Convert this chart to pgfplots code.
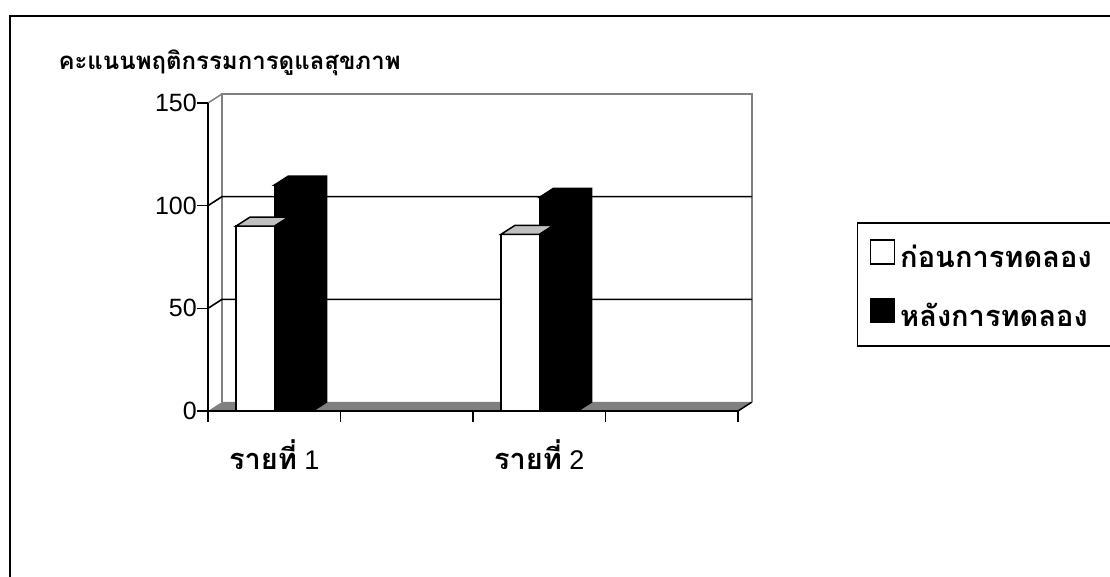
\documentclass[border=0pt]{standalone}
\usepackage{fontspec}
\setmainfont{Liberation Sans}
\newfontfamily\thai[Script=Thai]{Loma}
\usepackage{pgfplots}
\usepackage{pgfplotstable}
\pgfplotsset{compat=1.18}

\definecolor{floorgray}{RGB}{128,128,128}
\definecolor{wallgray}{RGB}{128,128,128}
\definecolor{topgray}{RGB}{192,192,192}

\pgfplotstableread{
x before after
0 90 110
2 86 104
}\scores

\def\ddx{0.1057}
\def\ddy{4.383}

% top face of the white column (drawn at the group centre, column spans [-38.4pt,0])
\pgfdeclareplotmark{topwhite}{%
  \pgfpathmoveto{\pgfpoint{-38.4pt}{0pt}}%
  \pgfpathlineto{\pgfpoint{-24.4pt}{9pt}}%
  \pgfpathlineto{\pgfpoint{14pt}{9pt}}%
  \pgfpathlineto{\pgfpoint{0pt}{0pt}}%
  \pgfpathclose
  \pgfusepathqfillstroke}
% top and side face of the black column (column spans [0,38.4pt])
\pgfdeclareplotmark{blackcol}{%
  \pgfmathsetmacro\hh{\rawy*2.05333}%
  \pgfpathmoveto{\pgfpoint{0pt}{0pt}}%
  \pgfpathlineto{\pgfpoint{14pt}{9pt}}%
  \pgfpathlineto{\pgfpoint{52.4pt}{9pt}}%
  \pgfpathlineto{\pgfpoint{52.4pt}{9pt-\hh pt}}%
  \pgfpathlineto{\pgfpoint{38.4pt}{-\hh pt}}%
  \pgfpathlineto{\pgfpoint{38.4pt}{0pt}}%
  \pgfpathclose
  \pgfusepathqfillstroke}

\pgfplotsset{mylegend/.style={legend image code/.code={%
  \draw[##1,line width=1.5pt] (0pt,-7pt) rectangle (24pt,17pt);}}}

\begin{document}
\begin{tikzpicture}[x=1pt,y=1pt]
\fill[white] (0,0) rectangle (1110,577);
\draw[line width=2pt] (9.5,-20) -- (9.5,561) -- (1130,561);
\node[anchor=base west,font=\thai\bfseries\fontsize{24}{29}\selectfont] at (55,507) {คะแนนพฤติกรรมการดูแลสุขภาพ};
\begin{axis}[
  at={(208pt,166pt)}, anchor=south west,
  scale only axis, width=530pt, height=308pt,
  xmin=-0.5, xmax=3.5, ymin=0, ymax=150,
  clip=false, axis on top,
  axis x line*=bottom, axis y line*=left,
  axis line style={line width=1.5pt, black},
  xtick={-0.5,0.5,1.5,2.5,3.5}, xticklabel={\mbox{}},
  extra x ticks={0,2},
  extra x tick labels={{{\thai\bfseries\fontsize{29}{32}\selectfont รายที่} 1},{{\thai\bfseries\fontsize{29}{32}\selectfont รายที่} 2}},
  extra x tick style={major tick length=0pt, xticklabel style={anchor=base, yshift=-59pt, font=\fontsize{27}{32}\selectfont}},
  ytick={0,50,100,150},
  tick align=outside, major tick length=11pt,
  tick style={line width=1.5pt, black},
  /pgf/number format/assume math mode=true,
  ticklabel style={font=\fontsize{25}{30}\selectfont},
  yticklabel style={inner xsep=0pt},
  legend style={at={(1.2245,0.6136)}, anchor=north west, draw=black, line width=1.5pt,
    font=\thai\bfseries\fontsize{29}{34}\selectfont, row sep=26.5pt, column sep=3pt,
    inner xsep=12pt, inner ysep=16.5pt,
    nodes={text width=225pt, align=left}},
  legend cell align=left,
]
% floor
\fill[floorgray] (axis cs:-0.5,0) -- (axis cs:3.5,0) -- (axis cs:3.5+\ddx,\ddy) -- (axis cs:-0.5+\ddx,\ddy) -- cycle;
\draw[black, line width=1.5pt] (axis cs:3.5,0) -- (axis cs:3.5+\ddx,\ddy);
% walls
\draw[wallgray, line width=1.5pt] (axis cs:-0.5+\ddx,\ddy) -- (axis cs:-0.5+\ddx,150+\ddy) -- (axis cs:3.5+\ddx,150+\ddy) -- (axis cs:3.5+\ddx,\ddy);
\draw[wallgray, line width=1.5pt] (axis cs:-0.5,150) -- (axis cs:-0.5+\ddx,150+\ddy);
% gridlines
\draw[black, line width=1.6pt] (axis cs:-0.5,50) -- (axis cs:-0.5+\ddx,50+\ddy) -- (axis cs:3.5+\ddx,50+\ddy);
\draw[black, line width=1.6pt] (axis cs:-0.5,100) -- (axis cs:-0.5+\ddx,100+\ddy) -- (axis cs:3.5+\ddx,100+\ddy);

\addplot[ybar, bar width=0.29, bar shift=-0.145, fill=white, draw=black, line width=1.5pt, mylegend]
  table[x=x,y=before]{\scores};
\addlegendentry{ก่อนการทดลอง}
\addplot[only marks, mark=topwhite, mark options={fill=topgray, draw=black, line width=1.5pt}, forget plot]
  table[x=x,y=before]{\scores};
\addplot[ybar, bar width=0.29, bar shift=0.145, fill=black, draw=black, line width=1.5pt, mylegend]
  table[x=x,y=after]{\scores};
\addlegendentry{หลังการทดลอง}
\addplot[only marks, mark=blackcol, mark options={fill=black, draw=black, line width=1.5pt},
  visualization depends on={rawy\as\rawy}, forget plot]
  table[x=x,y=after]{\scores};
\end{axis}
\pgfresetboundingbox
\useasboundingbox (0,0) rectangle (1110,577);
\end{tikzpicture}
\end{document}
